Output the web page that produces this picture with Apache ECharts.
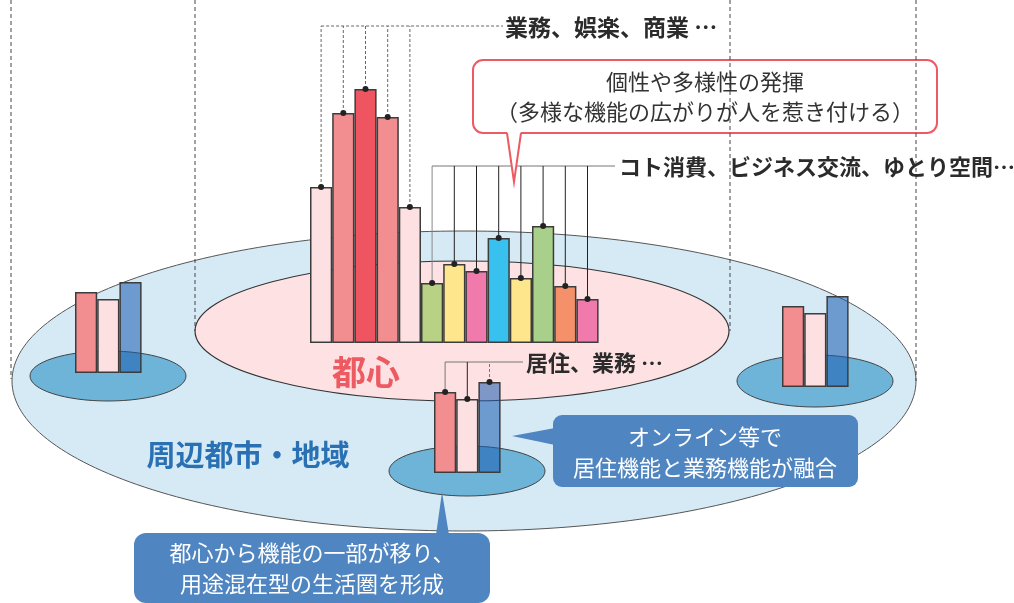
<!DOCTYPE html>
<html><head><meta charset="utf-8">
<script src="https://cdn.jsdelivr.net/npm/echarts@6/dist/echarts.min.js"></script>
<style>html,body{margin:0;padding:0;background:#fff}#c{width:1014px;height:603px}</style>
</head><body><div id="c"></div>
<script>
// ---- data ----
const mainCategories = ['m1','m2','m3','m4','m5','m6','m7','m8','m9','m10','m11','m12','m13'];
const mainValues = [156, 230, 254, 226, 136, 60, 79, 72, 105, 65, 117, 57, 44];
const smallCategories = ['s1','s2','s3'];
const westValues = [81, 74, 91];
const eastValues = [81, 74, 91];
const southValues = [81, 74, 91];
const labelCore = '業務、娯楽、商業 …';
const labelCoreNew = 'コト消費、ビジネス交流、ゆとり空間…';
const labelSouth = '居住、業務 …';
const titleCenter = '都心';
const titleRegion = '周辺都市・地域';
const calloutRed = ['個性や多様性の発揮', '（多様な機能の広がりが人を惹き付ける）'];
const calloutRight = ['オンライン等で', '居住機能と業務機能が融合'];
const calloutBottom = ['都心から機能の一部が移り、', '用途混在型の生活圏を形成'];

// ---- styles ----
const mainColors = ['#fde0e2','#f28e90','#ef5560','#f28e90','#fde0e2','#b9d185','#fde68c','#f07aab','#38c1ee','#fde68c','#a9d08a','#f4916b','#f07aab'];
const smallColors = ['#f28e90','#fde0e2','rgba(27,92,176,0.56)'];
const FONT = '"Noto Sans CJK JP"';

const chart = echarts.init(document.getElementById('c'), null, {renderer:'canvas'});

function barSeries(idx, values, colors){
  return {
    type:'bar', xAxisIndex:idx, yAxisIndex:idx, barCategoryGap:0, z:2,
    data: values.map((v,i)=>({value:v, itemStyle:{color:colors[i]}})),
    itemStyle:{borderColor:'#3c3c3c', borderWidth:1.5},
    silent:true, animation:false
  };
}

function mainLeaders(params, api){
  const i = api.value(0), v = api.value(1);
  const top = api.coord([i, v]);
  const inA = i < 5;
  const lt = api.coord([i, inA ? 317 : 177]);
  const ch = [];
  const stroke = inA ? '#666' : (i === 5 ? '#888' : '#222');
  ch.push({type:'line', shape:{x1:top[0],y1:top[1],x2:lt[0],y2:lt[1]},
    style:{stroke:stroke, lineWidth:1, lineDash: inA ? [3,2] : null}});
  if (i === 0) ch.push({type:'line', shape:{x1:lt[0],y1:lt[1],x2:503,y2:lt[1]}, style:{stroke:'#666', lineWidth:1, lineDash:[3,2]}});
  if (i === 5) ch.push({type:'line', shape:{x1:lt[0],y1:lt[1],x2:615,y2:lt[1]}, style:{stroke:'#777', lineWidth:1}});
  ch.push({type:'circle', shape:{cx:top[0], cy:top[1], r:3}, style:{fill:'#222'}});
  return {type:'group', children:ch};
}
function southLeaders(params, api){
  const i = api.value(0), v = api.value(1);
  const top = api.coord([i, v]);
  const lt = api.coord([i, 111]);
  const ch = [];
  const stroke = i === 1 ? '#222' : '#777';
  ch.push({type:'line', shape:{x1:top[0],y1:top[1],x2:lt[0],y2:lt[1]},
    style:{stroke:stroke, lineWidth:1, lineDash: i === 2 ? [3,2] : null}});
  if (i === 0) ch.push({type:'line', shape:{x1:lt[0],y1:lt[1],x2:523,y2:lt[1]}, style:{stroke:'#777', lineWidth:1}});
  ch.push({type:'circle', shape:{cx:top[0], cy:top[1], r:3}, style:{fill:'#222'}});
  return {type:'group', children:ch};
}

function txt(text, x, y, size, color, bold, align){
  return {type:'text', z:20, style:{text:text, x:x, y:y, fill:color,
    font:(bold?'bold ':'') + size + 'px ' + FONT, textAlign:align||'left', textVerticalAlign:'middle'}};
}
function dashV(x, y1, y2){
  return {type:'line', z:15, shape:{x1:x,y1:y1,x2:x,y2:y2}, style:{stroke:'#444', lineWidth:1, lineDash:[4,3]}};
}

const grids = [
  {left:310, width:288.6, top:23, height:320},
  {left:75, width:66.6, top:253, height:120},
  {left:782, width:66.6, top:267, height:120},
  {left:434, width:66.6, top:353, height:120}
];
const cats = [mainCategories, smallCategories, smallCategories, smallCategories];
const maxes = [320, 120, 120, 120];

const option = {
  animation:false,
  grid: grids.map(g=>Object.assign({containLabel:false}, g)),
  xAxis: cats.map((c,i)=>({type:'category', data:c, gridIndex:i, show:false, boundaryGap:true})),
  yAxis: maxes.map((m,i)=>({type:'value', gridIndex:i, min:0, max:m, show:false})),
  series: [
    barSeries(0, mainValues, mainColors),
    barSeries(1, westValues, smallColors),
    barSeries(2, eastValues, smallColors),
    barSeries(3, southValues, smallColors),
    {type:'custom', xAxisIndex:0, yAxisIndex:0, z:5, clip:false, silent:true,
      data: mainValues.map((v,i)=>[i,v]), renderItem: mainLeaders},
    {type:'custom', xAxisIndex:3, yAxisIndex:3, z:5, clip:false, silent:true,
      data: southValues.map((v,i)=>[i,v]), renderItem: southLeaders}
  ],
  graphic: [
    {type:'ellipse', z:-10, shape:{cx:464, cy:381, rx:452, ry:150}, style:{fill:'#d6eaf6', stroke:'#555', lineWidth:1}},
    {type:'ellipse', z:-9, shape:{cx:462, cy:331, rx:267, ry:70}, style:{fill:'#fde1e3', stroke:'#333', lineWidth:1.2}},
    {type:'ellipse', z:-8, shape:{cx:108, cy:376, rx:78, ry:25}, style:{fill:'#6db4d8', stroke:'#444', lineWidth:1}},
    {type:'ellipse', z:-8, shape:{cx:815, cy:381, rx:78, ry:26}, style:{fill:'#6db4d8', stroke:'#444', lineWidth:1}},
    {type:'ellipse', z:-8, shape:{cx:467, cy:471, rx:78, ry:25}, style:{fill:'#6db4d8', stroke:'#444', lineWidth:1}},
    dashV(11, 0, 379), dashV(916, 0, 381), dashV(195, 0, 331), dashV(730, 0, 331),
    {type:'rect', z:12, shape:{x:473, y:60, width:464, height:73, r:10}, style:{fill:'#fff', stroke:'#ee5a62', lineWidth:2}},
    {type:'polygon', z:13, shape:{points:[[507,131],[521,131],[514,182]]}, style:{fill:'#fff'}},
    {type:'polyline', z:13, shape:{points:[[507,133],[514,182],[521,133]]}, style:{stroke:'#ee5a62', lineWidth:2, fill:null}},
    txt(calloutRed[0], 705, 82, 22, '#333', false, 'center'),
    txt(calloutRed[1], 705, 112, 22, '#333', false, 'center'),
    {type:'rect', z:12, shape:{x:553, y:415, width:305, height:72, r:9}, style:{fill:'#4f85c1'}},
    {type:'polygon', z:12, shape:{points:[[555,428],[555,445],[512,436]]}, style:{fill:'#4f85c1'}},
    txt(calloutRight[0], 705, 437, 22, '#fff', false, 'center'),
    txt(calloutRight[1], 705, 468, 22, '#fff', false, 'center'),
    {type:'rect', z:12, shape:{x:134, y:533, width:356, height:70, r:12}, style:{fill:'#4f85c1'}},
    {type:'polygon', z:12, shape:{points:[[436,535],[449,535],[442,492]]}, style:{fill:'#4f85c1'}},
    txt(calloutBottom[0], 312, 553, 22, '#fff', false, 'center'),
    txt(calloutBottom[1], 312, 584, 22, '#fff', false, 'center'),
    txt(labelCore, 505, 27, 23, '#2b2b2b', true, 'left'),
    txt(labelCoreNew, 619, 167, 22, '#2b2b2b', true, 'left'),
    txt(labelSouth, 526, 363, 22, '#2b2b2b', true, 'left'),
    txt(titleCenter, 366, 372, 34, '#ee5a62', true, 'center'),
    txt(titleRegion, 248, 455, 29, '#2a71b4', true, 'center')
  ]
};
chart.setOption(option);
</script></body></html>
